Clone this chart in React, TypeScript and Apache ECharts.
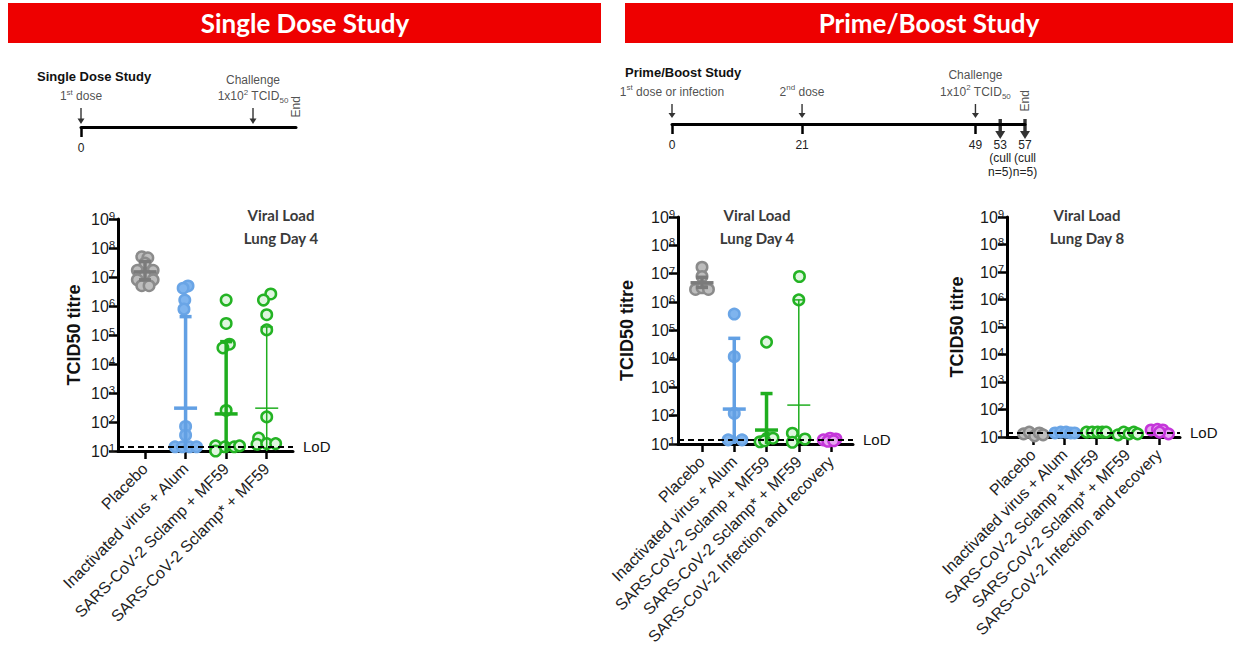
import React, { useEffect, useRef } from 'react';
import * as echarts from 'echarts';

const FONT = '"Liberation Sans", Arial, Helvetica, sans-serif';
const HEAD_FONT = 'Lato, "Open Sans", "Noto Sans", sans-serif';

// ---------- categories ----------
const singleCategories = ['Placebo', 'Inactivated virus + Alum', 'SARS-CoV-2 Sclamp + MF59', 'SARS-CoV-2 Sclamp* + MF59'];
const primeCategories = ['Placebo', 'Inactivated virus + Alum', 'SARS-CoV-2 Sclamp + MF59', 'SARS-CoV-2 Sclamp* + MF59', 'SARS-CoV-2 Infection and recovery'];
const titreMin = 10;
const titreMax = 1e9;
const LOD = 14;

// ---------- timelines (days) ----------
const singleTimelineEnd = 35;
const singleTimelineTicks = [0];
const singleEvents = [
  { day: 0, text: '1{sup|st} dose' },
  { day: 28, text: 'Challenge\n1x10{sup|2} TCID{sub|50}' },
];
const primeTimelineEnd = 57;
const primeTimelineTicks = [0, 21, 49];
const primeTimelineLabels = [0, 21, 49, 53, 57];
const primeEvents = [
  { day: 0, text: '1{sup|st} dose or infection' },
  { day: 21, text: '2{sup|nd} dose' },
  { day: 49, text: 'Challenge\n1x10{sup|2} TCID{sub|50}' },
];
const primeCullDays = [53, 57];

// ---------- Single dose, lung day 4: [offset within column, TCID50] ----------
const sdPlacebo = [[-0.08, 5e7], [0.07, 4.6e7], [0, 3e7], [-0.19, 1.7e7], [0.2, 1.7e7], [0, 1.2e7], [-0.19, 8e6], [0.2, 8e6], [-0.08, 5e6], [0.1, 5e6]];
const sdAlum = [[0.06, 4.9e6], [-0.06, 4.1e6], [-0.02, 1.6e6], [-0.04, 7.8e5], [0, 70], [0, 35], [-0.26, 14], [-0.08, 14], [0.1, 14], [0.27, 14]];
const sdSclamp = [[0, 1.6e6], [0, 2.5e5], [0.08, 4.8e4], [-0.08, 3.6e4], [0, 250], [-0.26, 15], [-0.03, 14], [0.2, 14], [0.33, 15], [-0.26, 10]];
const sdSclampStar = [[0.1, 2.6e6], [-0.08, 1.6e6], [0, 5e5], [0, 1.5e5], [0, 150], [-0.2, 28], [-0.24, 17], [0, 18], [0.22, 18]];
// mean, low, high
const sdBars = [[1.5e7, 8e6, 3.4e7], [300, 10, 4.3e5], [190, 10, 5.9e4], [300, 10, 1.9e5]];

// ---------- Prime/boost, lung day 4 ----------
const pbD4Placebo = [[0, 1.7e7], [0, 8e6], [-0.2, 2.8e6], [0, 3.2e6], [0.2, 2.8e6]];
const pbD4Alum = [[0, 3.8e5], [0, 1.2e4], [0, 120], [-0.19, 14], [0.24, 14]];
const pbD4Sclamp = [[0, 3.9e4], [-0.2, 12], [0.02, 16], [0.2, 16], [-0.06, 13]];
const pbD4SclampStar = [[0.02, 8e6], [0, 1.2e6], [-0.2, 24], [-0.2, 11.5], [0.19, 15]];
const pbD4Infection = [[-0.24, 14], [-0.03, 16], [0.15, 15], [-0.1, 12.5], [0.08, 13]];
const pbD4Bars = [[4.8e6, 3.3e6, 7.5e6], [170, 10, 5.3e4], [31, 10, 600], [235, 10, 1.2e6]];

// ---------- Prime/boost, lung day 8 ----------
const pbD8Placebo = [[-0.3, 13], [-0.12, 15], [0.05, 11], [0.2, 14], [0.32, 12]];
const pbD8Alum = [[-0.3, 14], [-0.12, 15], [0.05, 15], [0.2, 14], [0.32, 14]];
const pbD8Sclamp = [[-0.3, 15], [-0.12, 15], [0.05, 15], [0.2, 15], [0.32, 15]];
const pbD8SclampStar = [[-0.3, 12], [-0.12, 15], [0.05, 13], [0.2, 15], [0.32, 13]];
const pbD8Infection = [[-0.25, 18], [-0.05, 19], [0.12, 18], [0.3, 13], [0.02, 15]];
const pbD8Bars: number[][] = [];

const columnColours = ['gray', 'blue', 'green', 'green', 'purple'];
const columnBarWidths = [3.5, 3.5, 3.5, 1.5, 1.5];

const PALETTE: Record<string, { fill: string; stroke: string; bar: string }> = {
  gray: { fill: '#bdbdbd', stroke: '#8b8b8b', bar: '#7b7b7b' },
  blue: { fill: '#7fb4ee', stroke: '#6aa5e6', bar: '#62a0e4' },
  green: { fill: '#dff6df', stroke: '#24b324', bar: '#1fae1f' },
  purple: { fill: '#e7a6f1', stroke: '#c536da', bar: '#c536da' },
};

const panels = [
  {
    grid: { left: 118, top: 219, width: 175, height: 232 },
    xMin: -0.666, xMax: 3.648, nameGap: 35,
    cats: singleCategories,
    cols: [sdPlacebo, sdAlum, sdSclamp, sdSclampStar],
    bars: sdBars,
    title: 'Viral Load\nLung Day 4', titleX: 281,
  },
  {
    grid: { left: 678, top: 217, width: 175, height: 227 },
    xMin: -0.744, xMax: 4.68, nameGap: 42,
    cats: primeCategories,
    cols: [pbD4Placebo, pbD4Alum, pbD4Sclamp, pbD4SclampStar, pbD4Infection],
    bars: pbD4Bars,
    title: 'Viral Load\nLung Day 4', titleX: 757,
  },
  {
    grid: { left: 1007, top: 217, width: 173, height: 220 },
    xMin: -0.825, xMax: 4.667, nameGap: 41,
    cats: primeCategories,
    cols: [pbD8Placebo, pbD8Alum, pbD8Sclamp, pbD8SclampStar, pbD8Infection],
    bars: pbD8Bars,
    title: 'Viral Load\nLung Day 8', titleX: 1087,
  },
];

const ARROW = 'path://M4,0 L6,0 L6,13 L10,13 L5,20 L0,13 L4,13 Z';
const BOLD_ARROW = 'path://M3.3,0 L6.7,0 L6.7,12 L10,12 L5,20 L0,12 L3.3,12 Z';

const richSmall = {
  sup: { fontSize: 8, verticalAlign: 'top', lineHeight: 9, color: '#222', fontFamily: FONT },
  sub: { fontSize: 8, verticalAlign: 'bottom', lineHeight: 9, color: '#222', fontFamily: FONT },
};

function buildOption() {
  const grid: any[] = [];
  const xAxis: any[] = [];
  const yAxis: any[] = [];
  const series: any[] = [];
  const graphic: any[] = [];

  // ---- timeline grids ----
  grid.push({ left: 81, top: 126, width: 215, height: 1, containLabel: false, outerBoundsMode: 'none' });
  grid.push({ left: 672, top: 123, width: 353, height: 1, containLabel: false, outerBoundsMode: 'none' });
  const tl = [
    { min: 0, max: singleTimelineEnd, ticks: singleTimelineTicks, labels: singleTimelineTicks },
    { min: 0, max: primeTimelineEnd, ticks: primeTimelineTicks, labels: primeTimelineLabels },
  ];
  tl.forEach((t, i) => {
    xAxis.push({
      type: 'value', gridIndex: i, min: t.min, max: t.max,
      axisLine: { onZero: false, lineStyle: { color: '#000', width: 3 } },
      splitLine: { show: false },
      axisTick: { customValues: t.ticks, length: 10, lineStyle: { color: '#000', width: 2.5 } },
      axisLabel: {
        customValues: t.labels, margin: 14, fontSize: 12, color: '#222', fontFamily: FONT, lineHeight: 13.5,
        formatter: (v: number) => (primeCullDays.indexOf(v) >= 0 && i === 1 ? `${v}\n(cull\nn=5)` : `${v}`),
      },
    });
    yAxis.push({ type: 'value', gridIndex: i, min: 0, max: 1, show: false });
  });

  const eventSeries = (idx: number, events: { day: number; text: string }[], size: number[], offsetY: number, lh: number) => ({
    type: 'scatter', xAxisIndex: idx, yAxisIndex: idx, silent: true, clip: false, z: 5,
    symbol: ARROW, symbolSize: size, symbolOffset: [0, offsetY],
    itemStyle: { color: '#000' },
    data: events.map((e) => ({ value: [e.day, 0], label: { formatter: e.text } })),
    label: { show: true, position: 'top', distance: 4, fontSize: 12, color: '#222', fontFamily: FONT, lineHeight: lh, rich: richSmall },
  });
  series.push(eventSeries(0, singleEvents, [7, 16], -11, 16));
  series.push(eventSeries(1, primeEvents, [7, 14], -13, 17));
  series.push({
    type: 'scatter', xAxisIndex: 1, yAxisIndex: 1, silent: true, clip: false, z: 5,
    symbol: BOLD_ARROW, symbolSize: [10, 20], symbolOffset: [0, 5],
    itemStyle: { color: '#000' },
    data: primeCullDays.map((d) => [d, 0]),
  });
  [
    { idx: 0, day: singleTimelineEnd },
    { idx: 1, day: primeTimelineEnd },
  ].forEach((e) => {
    series.push({
      type: 'scatter', xAxisIndex: e.idx, yAxisIndex: e.idx, silent: true, clip: false, z: 5,
      symbol: 'circle', symbolSize: 1, itemStyle: { color: 'transparent' },
      data: [[e.day, 0]],
      label: { show: true, formatter: 'End', position: 'top', distance: e.idx === 0 ? 9 : 12, rotate: 90, align: 'left', verticalAlign: 'middle', fontSize: 12, color: '#222', fontFamily: FONT },
    });
  });

  // ---- data panels ----
  panels.forEach((p, pi) => {
    const gi = pi + 2;
    const cats = p.cats;
    grid.push({ ...p.grid, containLabel: false, outerBoundsMode: 'none' });
    xAxis.push({
      type: 'value', gridIndex: gi, min: p.xMin, max: p.xMax,
      axisLine: { onZero: false, lineStyle: { color: '#000', width: 3 } },
      splitLine: { show: false },
      axisTick: { customValues: cats.map((_, i) => i), length: 8, lineStyle: { color: '#000', width: 2.5 } },
      axisLabel: {
        customValues: cats.map((_, i) => i), rotate: 45, margin: 15, fontSize: 16, color: '#222', fontFamily: FONT,
        formatter: (v: number) => cats[Math.round(v)] ?? '',
      },
    });
    yAxis.push({
      type: 'log', logBase: 10, gridIndex: gi, min: titreMin, max: titreMax,
      name: 'TCID50 titre', nameLocation: 'middle', nameGap: p.nameGap, nameRotate: 90,
      nameTextStyle: { fontSize: 18, fontWeight: 'bold', color: '#111', fontFamily: FONT },
      axisLine: { show: true, onZero: false, lineStyle: { color: '#000', width: 3 } },
      axisTick: { show: true, length: 9, lineStyle: { color: '#000', width: 2.5 } },
      splitLine: { show: false },
      axisLabel: {
        margin: 3, fontSize: 16, color: '#1a1a1a', fontFamily: FONT, lineHeight: 17,
        formatter: (v: number) => `10{s|${Math.round(Math.log10(v))}}`,
        rich: { s: { fontSize: 11, verticalAlign: 'top', lineHeight: 11, color: '#1a1a1a', fontFamily: FONT } },
      },
    });

    p.cols.forEach((pts, ci) => {
      const pal = PALETTE[columnColours[ci]];
      const s: any = {
        type: 'scatter', xAxisIndex: gi, yAxisIndex: gi, clip: false, silent: true, z: 3,
        symbol: 'circle', symbolSize: 10.5,
        itemStyle: { color: pal.fill, borderColor: pal.stroke, borderWidth: 2.5, opacity: 1 },
        data: pts.map(([o, v]) => [ci + o, v]),
      };
      if (ci === 0) {
        s.markLine = {
          silent: true, symbol: 'none', animation: false,
          data: [{ yAxis: LOD }],
          lineStyle: { color: '#000', width: 2, type: [6, 4] },
          label: { show: true, position: 'end', formatter: 'LoD', distance: 10, fontSize: 15, color: '#111', fontFamily: FONT },
        };
      }
      series.push(s);
    });

    if (p.bars.length) {
      series.push({
        type: 'custom', xAxisIndex: gi, yAxisIndex: gi, z: 6, silent: true, clip: false,
        data: p.bars.map((b, i) => [i, b[0], b[1], b[2]]),
        encode: { x: 0, y: [1, 2, 3] },
        renderItem: (params: any, api: any) => {
          const i = params.dataIndex;
          const x = api.value(0);
          const mean = api.value(1);
          const lo = api.value(2);
          const hi = api.value(3);
          const pm = api.coord([x, mean]);
          const pl = api.coord([x, lo]);
          const ph = api.coord([x, hi]);
          const c = PALETTE[columnColours[i]].bar;
          const w = columnBarWidths[i];
          const st = { stroke: c, lineWidth: w };
          const children: any[] = [
            { type: 'line', shape: { x1: pm[0], y1: pl[1], x2: pm[0], y2: ph[1] }, style: st },
            { type: 'line', shape: { x1: pm[0] - 6, y1: ph[1], x2: pm[0] + 6, y2: ph[1] }, style: st },
            { type: 'line', shape: { x1: pm[0] - 11.5, y1: pm[1], x2: pm[0] + 11.5, y2: pm[1] }, style: st },
          ];
          if (lo > titreMin) {
            children.push({ type: 'line', shape: { x1: pm[0] - 6, y1: pl[1], x2: pm[0] + 6, y2: pl[1] }, style: st });
          }
          return { type: 'group', children };
        },
      });
    }

    graphic.push({
      type: 'text', x: p.titleX, y: 203,
      style: { text: p.title, fill: '#3a3a3a', font: `bold 15px ${HEAD_FONT}`, lineHeight: 23, align: 'center', verticalAlign: 'top' },
      silent: true,
    });
  });

  // ---- banners & timeline headings ----
  graphic.push(
    { type: 'rect', shape: { x: 8, y: 3, width: 593, height: 40 }, style: { fill: '#ee0000' }, silent: true, z: 0 },
    { type: 'text', x: 305, y: 23, style: { text: 'Single Dose Study', fill: '#fff', font: `bold 26px ${HEAD_FONT}`, align: 'center', verticalAlign: 'middle' }, silent: true },
    { type: 'rect', shape: { x: 625, y: 3, width: 608, height: 40 }, style: { fill: '#ee0000' }, silent: true, z: 0 },
    { type: 'text', x: 929, y: 23, style: { text: 'Prime/Boost Study', fill: '#fff', font: `bold 26px ${HEAD_FONT}`, align: 'center', verticalAlign: 'middle' }, silent: true },
    { type: 'text', x: 37, y: 76, style: { text: 'Single Dose Study', fill: '#111', font: `bold 13px ${FONT}`, align: 'left', verticalAlign: 'middle' }, silent: true },
    { type: 'text', x: 625, y: 72, style: { text: 'Prime/Boost Study', fill: '#111', font: `bold 13px ${FONT}`, align: 'left', verticalAlign: 'middle' }, silent: true },
  );

  return {
    animation: false,
    backgroundColor: '#fff',
    grid, xAxis, yAxis, series, graphic,
    tooltip: { show: false },
  };
}

export default function App() {
  const ref = useRef<HTMLDivElement>(null);
  useEffect(() => {
    document.body.style.margin = '0';
    const chart = echarts.init(ref.current!, null, { renderer: 'svg' });
    chart.setOption(buildOption() as any);
    return () => chart.dispose();
  }, []);
  return <div ref={ref} style={{ width: 1236, height: 660 }} />;
}
